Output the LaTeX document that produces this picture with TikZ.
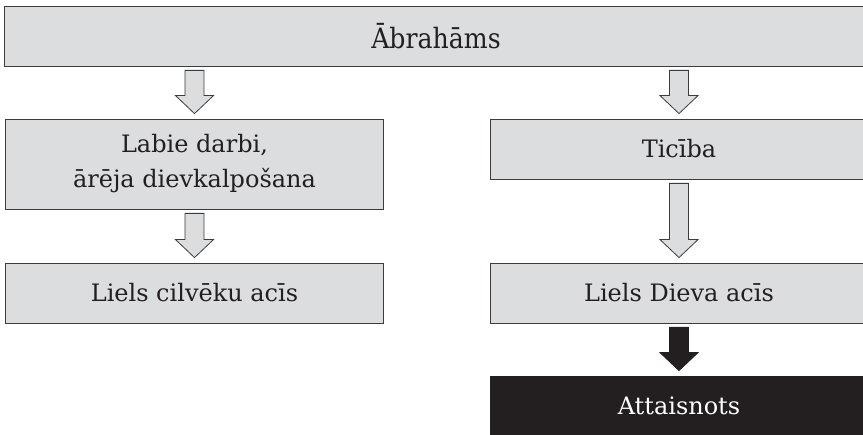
\documentclass[tikz,border=0pt]{standalone}
\usepackage{fontspec}
\setmainfont{DejaVu Serif}
\newfontfamily\condfont{DejaVu Serif Condensed}
\usetikzlibrary{calc,positioning}

\definecolor{boxgray}{HTML}{DCDDDF}
\definecolor{linegray}{HTML}{3C3C3C}
\definecolor{inkblack}{HTML}{231F20}

\tikzset{
  box/.style={draw=linegray, fill=boxgray, line width=0.8pt, minimum width=378pt, minimum height=60pt,
              inner sep=0pt, align=center, text=inkblack, font=\fontsize{24}{35}\selectfont},
  darkbox/.style={box, draw=inkblack, fill=inkblack, text=white},
  hollow/.style={draw=linegray, fill=boxgray, line width=0.8pt, to path={
      let \p1=(\tikztostart), \p2=(\tikztotarget) in
      (\x1-9.5pt,\y1-4pt) -- (\x1+9.5pt,\y1-4pt) -- (\x1+9.5pt,\y2+23pt) -- (\x1+19pt,\y2+23pt)
      -- (\x1,\y2+5pt) -- (\x1-19pt,\y2+23pt) -- (\x1-9.5pt,\y2+23pt) -- cycle}},
  fullarrow/.style={hollow, draw=inkblack, fill=inkblack}
}

\begin{document}
\begin{tikzpicture}[x=1pt, y=1pt]
    \useasboundingbox (0,0) rectangle (863,435);

    \node[box, minimum width=864pt, font=\condfont\fontsize{28}{32}\selectfont] (abr) at (436,399) {Ābrahāms};

    \node[box, minimum height=90pt] (works)     at (194.5,271) {Labie darbi,\\ārēja dievkalpošana};
    \node[box]                      (faith)     at (679,286)   {Ticība};
    \node[box]                      (menseyes)  at (194.5,142) {Liels cilvēku acīs};
    \node[box]                      (godeyes)   at (679,142)   {Liels Dieva acīs};
    \node[darkbox]                  (justified) at (679,29)    {Attaisnots};

    \draw[hollow]    (works.north |- abr.south) to (works.north);
    \draw[hollow]    (faith.north |- abr.south) to (faith.north);
    \draw[hollow]    (works.south)              to (menseyes.north);
    \draw[hollow]    (faith.south)              to (godeyes.north);
    \draw[fullarrow] (godeyes.south)            to (justified.north);

\end{tikzpicture}
\end{document}
